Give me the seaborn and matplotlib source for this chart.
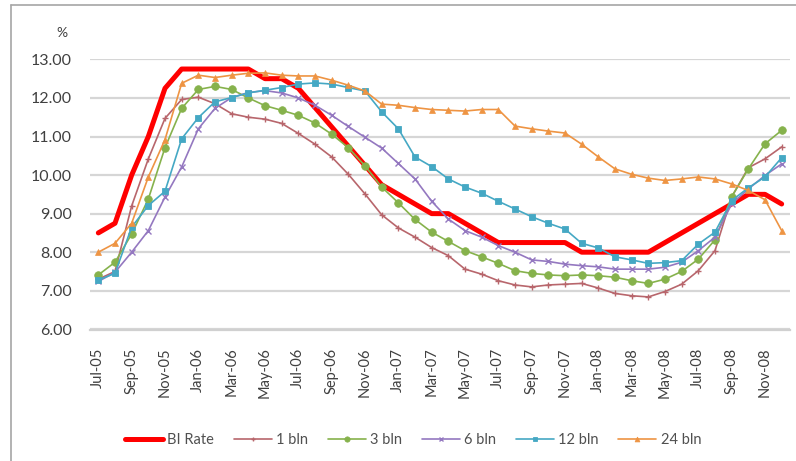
import numpy as np
import pandas as pd
import matplotlib
matplotlib.use("Agg")
import matplotlib.pyplot as plt
from matplotlib.lines import Line2D
import seaborn as sns

months = ['Jul-05', 'Aug-05', 'Sep-05', 'Oct-05', 'Nov-05', 'Dec-05',
          'Jan-06', 'Feb-06', 'Mar-06', 'Apr-06', 'May-06', 'Jun-06',
          'Jul-06', 'Aug-06', 'Sep-06', 'Oct-06', 'Nov-06', 'Dec-06',
          'Jan-07', 'Feb-07', 'Mar-07', 'Apr-07', 'May-07', 'Jun-07',
          'Jul-07', 'Aug-07', 'Sep-07', 'Oct-07', 'Nov-07', 'Dec-07',
          'Jan-08', 'Feb-08', 'Mar-08', 'Apr-08', 'May-08', 'Jun-08',
          'Jul-08', 'Aug-08', 'Sep-08', 'Oct-08', 'Nov-08', 'Dec-08']

bi_rate = [8.50, 8.75, 10.00, 11.00, 12.25, 12.75,
           12.75, 12.75, 12.75, 12.75, 12.50, 12.50, 12.25, 11.75, 11.25, 10.75, 10.25, 9.75,
           9.50, 9.25, 9.00, 9.00, 8.75, 8.50, 8.25, 8.25, 8.25, 8.25, 8.25, 8.00,
           8.00, 8.00, 8.00, 8.00, 8.25, 8.50, 8.75, 9.00, 9.25, 9.50, 9.50, 9.25]

bln1 = [7.30, 7.50, 9.20, 10.42, 11.47, 11.96, 12.02, 11.85, 11.59, 11.50,
        11.45, 11.34, 11.08, 10.80, 10.47, 10.02, 9.51, 8.97, 8.63, 8.39,
        8.12, 7.91, 7.56, 7.43, 7.26, 7.15, 7.10, 7.15, 7.17, 7.19,
        7.07, 6.93, 6.87, 6.84, 6.98, 7.17, 7.52, 8.04, 9.43, 10.19, 10.42, 10.73]

bln3 = [7.41, 7.74, 8.47, 9.38, 10.71, 11.73, 12.22, 12.30, 12.22, 12.00,
        11.80, 11.68, 11.55, 11.35, 11.06, 10.71, 10.24, 9.69, 9.28, 8.85,
        8.52, 8.28, 8.04, 7.88, 7.71, 7.52, 7.45, 7.41, 7.39, 7.41,
        7.39, 7.35, 7.26, 7.19, 7.30, 7.50, 7.82, 8.32, 9.44, 10.16, 10.81, 11.16]

bln6 = [7.24, 7.48, 8.00, 8.56, 9.43, 10.21, 11.20, 11.73, 12.01, 12.14,
        12.19, 12.13, 12.00, 11.81, 11.55, 11.26, 10.98, 10.70, 10.30, 9.90,
        9.32, 8.86, 8.56, 8.39, 8.17, 8.00, 7.80, 7.76, 7.69, 7.65,
        7.62, 7.56, 7.56, 7.56, 7.61, 7.74, 8.04, 8.39, 9.25, 9.64, 9.99, 10.29]

bln12 = [7.28, 7.45, 8.65, 9.21, 9.58, 10.94, 11.49, 11.90, 12.01, 12.13,
         12.20, 12.27, 12.36, 12.39, 12.36, 12.27, 12.18, 11.64, 11.20, 10.47,
         10.22, 9.90, 9.69, 9.53, 9.32, 9.12, 8.92, 8.75, 8.60, 8.23,
         8.11, 7.88, 7.80, 7.71, 7.73, 7.78, 8.21, 8.52, 9.34, 9.67, 9.95, 10.45]

bln24 = [8.00, 8.23, 8.75, 9.95, 10.92, 12.38, 12.59, 12.53, 12.59, 12.64,
         12.65, 12.59, 12.57, 12.57, 12.46, 12.33, 12.18, 11.84, 11.81, 11.75,
         11.70, 11.68, 11.66, 11.70, 11.70, 11.27, 11.20, 11.14, 11.09, 10.80,
         10.47, 10.16, 10.02, 9.92, 9.86, 9.90, 9.95, 9.90, 9.77, 9.60, 9.36, 8.56]

yticks = [6, 7, 8, 9, 10, 11, 12, 13]

series = [
    ("BI Rate", bi_rate, dict(color="#FF0000", lw=3.6, marker=None)),
    ("1 bln", bln1, dict(color="#B8666C", lw=1.2, marker="+", ms=5, mew=1.0)),
    ("3 bln", bln3, dict(color="#86B24C", lw=1.2, marker="o", ms=5.5, mew=0.5)),
    ("6 bln", bln6, dict(color="#9478C0", lw=1.2, marker="x", ms=4.5, mew=1.0)),
    ("12 bln", bln12, dict(color="#45A8C4", lw=1.2, marker="s", ms=4.5, mew=0.6)),
    ("24 bln", bln24, dict(color="#EE9443", lw=1.2, marker="^", ms=5, mew=0.5)),
]

sns.set_theme(style="white")
plt.rcParams['font.family'] = ['Lato', 'DejaVu Sans']

fig = plt.figure(figsize=(7.96, 4.61), dpi=100)
ax = fig.add_axes([90 / 796, 1 - 329.5 / 461, 700 / 796, (329.5 - 59) / 461])

x = np.arange(len(months))
handles = []
for name, vals, st in series:
    df = pd.DataFrame({"x": x, "y": vals})
    kw = dict(color=st["color"], linewidth=st["lw"], ax=ax, zorder=3 if name != "BI Rate" else 2)
    if st["marker"]:
        kw.update(marker=st["marker"], markersize=st["ms"], markeredgewidth=st["mew"],
                  markeredgecolor=st["color"], markerfacecolor=st["color"])
    sns.lineplot(data=df, x="x", y="y", **kw)
    handles.append(Line2D([0], [0], color=st["color"], lw=st["lw"],
                          marker=st["marker"], markersize=st.get("ms", 0) * 0.7,
                          markeredgewidth=st.get("mew", 0), markerfacecolor=st["color"],
                          markeredgecolor=st["color"], label=name))

ax.set_xlim(-0.5, len(months) - 0.5)
ax.set_ylim(5.995, 13.01)
ax.set_yticks(yticks)
ax.set_yticklabels([f"{v:.2f}" for v in yticks])
ax.set_xticks(x[::2])
ax.set_xticklabels(months[::2], rotation=90)
ax.set_xlabel("")
ax.set_ylabel("")
ax.yaxis.grid(True, color="#D6D6D6", lw=1.6)
ax.set_axisbelow(True)
for s in ["top", "right", "left"]:
    ax.spines[s].set_visible(False)
ax.spines["bottom"].set_color("#D0D0D0")
ax.spines["bottom"].set_linewidth(1.6)
ax.tick_params(axis="y", length=0, pad=13, labelsize=11.5, labelcolor="#404040")
ax.tick_params(axis="x", length=0, pad=13, labelsize=10.5, labelcolor="#404040")

fig.text(62 / 796, 1 - 33 / 461, "%", ha="center", va="center", fontsize=10, color="#404040")

fig.legend(handles=handles, loc="center", ncol=6, frameon=False,
           bbox_to_anchor=(413 / 796, 1 - 440 / 461), fontsize=10.5,
           handlelength=2.6, columnspacing=1.35, handletextpad=0.3,
           labelcolor="#505050")

fig.add_artist(Line2D([11 / 796, 11 / 796], [0, 1 - 5 / 461], transform=fig.transFigure,
                      color="#A6A6A6", lw=1.2))
fig.add_artist(Line2D([11 / 796, 1], [1 - 5 / 461, 1 - 5 / 461], transform=fig.transFigure,
                      color="#A6A6A6", lw=1.2))

fig.savefig("out.png", dpi=100)
